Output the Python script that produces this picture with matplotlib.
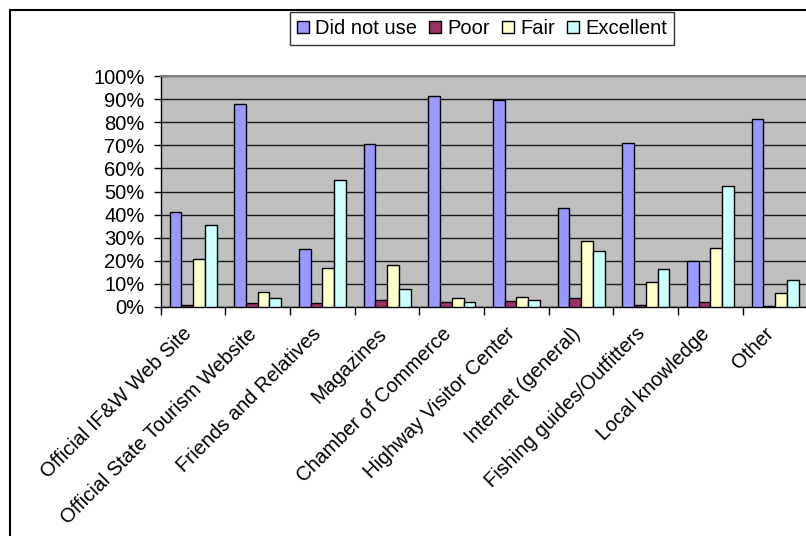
import matplotlib
matplotlib.use("Agg")
import matplotlib.pyplot as plt
import numpy as np
from matplotlib.patches import Rectangle

plt.rcParams['font.family'] = ['Liberation Sans', 'DejaVu Sans']

categories = [
    "Official IF&W Web Site",
    "Official State Tourism Website",
    "Friends and Relatives",
    "Magazines",
    "Chamber of Commerce",
    "Highway Visitor Center",
    "Internet (general)",
    "Fishing guides/Outfitters",
    "Local knowledge",
    "Other",
]
did_not_use = [41.1, 87.8, 25.2, 70.5, 91.5, 89.8, 42.9, 71.0, 19.7, 81.4]
poor = [0.9, 1.6, 1.6, 3.2, 2.0, 2.7, 3.7, 0.9, 2.0, 0.4]
fair = [20.7, 6.5, 16.9, 18.0, 3.7, 4.3, 28.5, 11.0, 25.4, 5.9]
excellent = [35.7, 3.7, 55.0, 7.6, 2.0, 3.2, 24.2, 16.4, 52.3, 11.5]

series_names = ["Did not use", "Poor", "Fair", "Excellent"]
series_values = [did_not_use, poor, fair, excellent]
series_colors = ["#9999FF", "#993366", "#FFFFCC", "#CCFFFF"]

y_ticks = list(range(0, 101, 10))
y_tick_labels = [f"{v}%" for v in y_ticks]

W, H = 806, 536
fig = plt.figure(figsize=(W / 100, H / 100), dpi=100)
fig.patch.set_facecolor("white")

# chart-area frame (runs past the right and bottom edges)
fig.patches.append(Rectangle((10 / W, -0.5), 2.0, (H - 10) / H + 0.5,
                             transform=fig.transFigure, fill=False,
                             edgecolor="black", linewidth=1.5))

ax_left, ax_right = 160.7, 807.5
ax_top, ax_bottom = 76, 307
ax = fig.add_axes([ax_left / W, (H - ax_bottom) / H,
                   (ax_right - ax_left) / W, (ax_bottom - ax_top) / H])
ax.set_facecolor("#C0C0C0")

n = len(categories)
x = np.arange(n)
bar_w = 1 / 5.5
for i, (name, vals, col) in enumerate(zip(series_names, series_values, series_colors)):
    offs = (i - 1.5) * bar_w
    ax.bar(x + offs, vals, width=bar_w, color=col, edgecolor="black",
           linewidth=1.0, label=name, zorder=3)

ax.set_xlim(-0.5, n - 0.5)
ax.set_ylim(0, 100)
ax.set_yticks(y_ticks)
ax.set_yticklabels(y_tick_labels, fontsize=14.5)
ax.yaxis.grid(True, color="#1a1a1a", linewidth=1.0, zorder=1)
ax.set_axisbelow(True)

ax.set_xticks(np.arange(-0.5, n, 1.0))
ax.set_xticklabels([])
ax.set_xticks(x, minor=True)
ax.set_xticklabels(categories, minor=True, rotation=45, rotation_mode="anchor",
                   ha="right", va="baseline", fontsize=14.5)
ax.tick_params(axis="x", which="minor", length=0, pad=20)
ax.tick_params(axis="x", which="major", length=6, width=1, direction="out", color="black")
ax.tick_params(axis="y", length=5, width=1, direction="out", pad=6.5)

for s in ("left", "bottom"):
    ax.spines[s].set_color("black")
    ax.spines[s].set_linewidth(1.0)
ax.spines["top"].set_color("#808080")
ax.spines["top"].set_linewidth(1.5)
ax.spines["right"].set_visible(False)

leg = fig.legend(loc="center", bbox_to_anchor=(482 / W, 1 - 28.5 / H), ncol=4,
                 fontsize=14.5, frameon=True, fancybox=False, edgecolor="black",
                 handlelength=0.6, handleheight=0.6, handletextpad=0.3,
                 columnspacing=0.6, borderpad=0.35, borderaxespad=0)
leg.get_frame().set_linewidth(1.0)

fig.savefig("out.png", dpi=100)
